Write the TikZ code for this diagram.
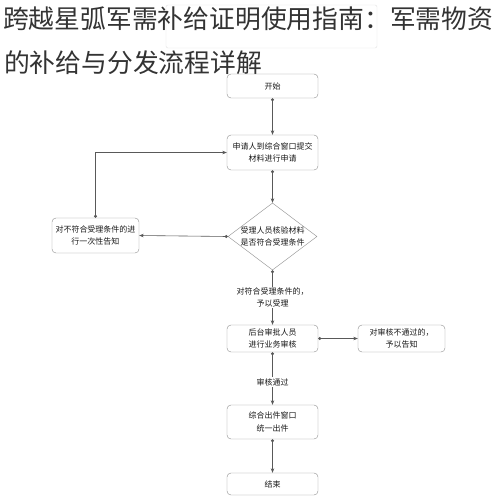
\documentclass[tikz,border=0pt]{standalone}
\usepackage{fontspec}
\setmainfont{Noto Sans CJK SC}
\usetikzlibrary{shapes.geometric,arrows.meta}

\tikzset{
  procbox/.style={draw=black!45, rounded corners=4pt, minimum width=91pt, inner sep=1pt, align=center, font=\fontsize{8}{12.5}\selectfont, text=black!90},
  decbox/.style={draw=black!45, diamond, aspect=1.33, minimum width=89pt, minimum height=67pt, inner sep=-3pt, align=center, font=\fontsize{8}{12.5}\selectfont, text=black!90},
  flow/.style={draw=black!65, line width=0.6pt, {Circle[length=3pt]}-{Stealth[length=4.5pt,width=3.5pt]}},
  lbl/.style={fill=white, inner sep=1pt, align=center, font=\fontsize{8}{12.5}\selectfont, text=black!90}
}

\begin{document}
\begin{tikzpicture}[x=1pt,y=1pt,yscale=-1,xscale=1]
\useasboundingbox (0,0) rectangle (500,501);

%Shape: faint frame behind the title
\draw [black!12, rounded corners=2pt] (166,5) rectangle (377,48);

% Text Node
\node (title1) [anchor=west, inner sep=0pt, text=black!80, font=\fontsize{25.8}{30}\selectfont] at (3,19) {跨越星弧军需补给证明使用指南：军需物资};
% Text Node
\node (title2) [anchor=west, inner sep=0pt, text=black!80, font=\fontsize{25.8}{30}\selectfont] at (4,63) {的补给与分发流程详解};

% Process Nodes
\node (start) [procbox, minimum height=24pt] at (272.5,86) {开始};
\node (apply) [procbox, minimum height=35pt] at (272.5,152.5) {申请人到综合窗口提交\\材料进行申请};
\node (check) [decbox] at (272.5,236.5) {受理人员核验材料\\是否符合受理条件};
\node (reject) [procbox, minimum width=87pt, minimum height=35pt] at (95.5,235.5) {对不符合受理条件的进\\行一次性告知};
\node (review) [procbox, minimum height=27pt] at (272.5,338.5) {后台审批人员\\进行业务审核};
\node (notice) [procbox, minimum width=87pt, minimum height=27pt] at (401.5,338.5) {对审核不通过的，\\予以告知};
\node (issue) [procbox, minimum height=34pt] at (272.5,422) {综合出件窗口\\统一出件};
\node (finish) [procbox, minimum height=22pt] at (272.5,484) {结束};

% Connectors
\draw [flow] (start) -- (apply);
\draw [flow] (apply) -- (check);
\draw [flow] (check.west) -- (reject.east);
\draw [flow] (reject.north) |- (apply.west);
\draw [flow] (check.south) -- node [lbl] (ok) {对符合受理条件的，\\予以受理} (review.north);
\draw [flow] (review.east) -- (notice.west);
\draw [flow] (review.south) -- node [lbl, pos=0.57] (pass) {审核通过} (issue.north);
\draw [flow] (issue) -- (finish);

\end{tikzpicture}
\end{document}
